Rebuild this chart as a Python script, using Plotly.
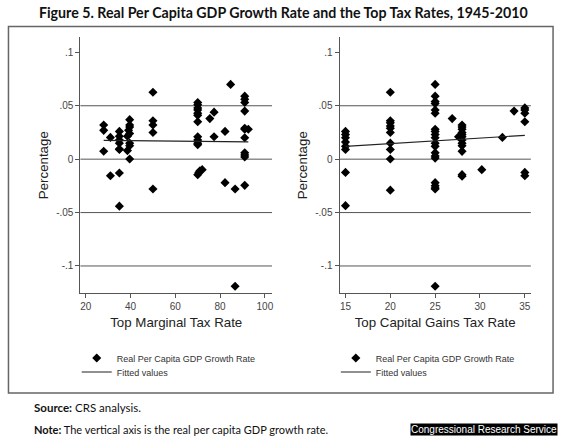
import plotly.graph_objects as go

W, H = 570, 436

# ---------------- data ----------------
marginal_rate = [28, 28, 28,
                 31, 31,
                 35, 35, 35, 35, 35, 35, 35, 35,
                 39.6, 39.6, 39.6, 39.1, 39.6, 38.6, 39.6, 39.6, 38.6, 39.6,
                 50, 50, 50, 50, 50,
                 70, 70, 70, 70, 70, 70, 70, 70, 70, 70, 70, 70, 70.5, 71, 72,
                 75.4, 77.3, 77.3,
                 82.2, 82.2,
                 84.7,
                 86.7, 86.7,
                 91, 91, 91, 91, 91, 91, 91, 91, 91, 91, 91,
                 92.6]
growth_left = [0.032, 0.027, 0.0074,
               0.0204, -0.0155,
               0.026, 0.0214, 0.018, 0.015, 0.0095, 0.009, -0.013, -0.044,
               0.037, 0.032, 0.030, 0.027, 0.024, 0.0214, 0.015, 0.0126, 0.008, 0.0002,
               0.0626, 0.036, 0.032, 0.025, -0.028,
               0.053, 0.051, 0.048, 0.046, 0.043, 0.041, 0.035, 0.021, 0.018, 0.015, 0.0136,
               -0.0145, -0.0124, -0.0108, -0.0098,
               0.038, 0.044, 0.021,
               0.026, -0.022,
               0.070,
               -0.028, -0.119,
               0.059, 0.056, 0.053, 0.045, 0.029, 0.028, 0.020, 0.006, 0.004, 0.002, -0.0245,
               0.028]

capgains_rate = [15, 15, 15, 15, 15, 15, 15, 15,
                 20, 20, 20, 20, 20, 20, 20, 20, 20, 20,
                 25, 25, 25, 25, 25, 25, 25, 25, 25, 25, 25, 25, 25, 25, 25, 25, 25, 25, 25, 25,
                 26.9, 27.6,
                 28, 28, 28, 28, 28, 28, 28, 28, 28, 28, 28, 28,
                 30.2, 32.5, 33.8,
                 35, 35, 35, 35, 35, 35]
growth_right = [0.026, 0.023, 0.020, 0.016, 0.012, 0.009, -0.0124, -0.0435,
                0.0626, 0.036, 0.034, 0.031, 0.029, 0.025, 0.015, 0.009, 0.0002, -0.029,
                0.070, 0.059, 0.054, 0.052, 0.046, 0.043, 0.028, 0.026, 0.023, 0.020,
                0.015, 0.012, 0.006, 0.003, 0.001, -0.022, -0.025, -0.027, -0.028, -0.119,
                0.038, 0.021,
                0.032, 0.030, 0.028, 0.025, 0.023, 0.021, 0.018, 0.015, 0.0126, 0.0073, -0.0145, -0.016,
                -0.0098, 0.0204, 0.045,
                0.048, 0.046, 0.043, 0.035, -0.0124, -0.0155]

fit_left_x = [28, 92.6]
fit_left_y = [0.0176, 0.0161]
fit_right_x = [15, 35]
fit_right_y = [0.012, 0.0223]

y_tickvals = [0.1, 0.05, 0, -0.05, -0.1]
y_ticktext = [".1", ".05", "0", "-.05", "-.1"]
grid_vals = [0.05, 0, -0.05, -0.1]
left_xticks = [20, 40, 60, 80, 100]
right_xticks = [15, 20, 25, 30, 35]

series_name = "Real Per Capita GDP Growth Rate"
fit_name = "Fitted values"

# ---------------- figure ----------------
def px(x):
    return x / W


def py(y):
    return 1 - y / H


fig = go.Figure()

fig.add_trace(go.Scatter(x=marginal_rate, y=growth_left, mode="markers", name=series_name,
                         marker=dict(symbol="diamond", size=7, color="black"),
                         xaxis="x", yaxis="y", legend="legend"))
fig.add_trace(go.Scatter(x=fit_left_x, y=fit_left_y, mode="lines", name=fit_name,
                         line=dict(color="#222", width=1.2),
                         xaxis="x", yaxis="y", legend="legend3"))
fig.add_trace(go.Scatter(x=capgains_rate, y=growth_right, mode="markers", name=series_name,
                         marker=dict(symbol="diamond", size=7, color="black"),
                         xaxis="x2", yaxis="y2", legend="legend2"))
fig.add_trace(go.Scatter(x=fit_right_x, y=fit_right_y, mode="lines", name=fit_name,
                         line=dict(color="#222", width=1.2),
                         xaxis="x2", yaxis="y2", legend="legend4"))

axis_font = dict(family="Arial, Liberation Sans, sans-serif", size=10, color="#444")
title_font = dict(family="Arial, Liberation Sans, sans-serif", size=13.3, color="#222")

yrange = [-0.1253, 0.114]
ydom = [py(293), py(37.4)]

common_y = dict(range=yrange, domain=ydom, tickvals=y_tickvals, ticktext=y_ticktext,
                showgrid=False, zeroline=False, showline=True, linecolor="#555", linewidth=1,
                ticks="outside", ticklen=4, tickcolor="#555", tickfont=axis_font,
                title=dict(text="Percentage", font=title_font, standoff=4))
common_x = dict(showgrid=False, zeroline=False, showline=True, linecolor="#555", linewidth=1,
                ticks="outside", ticklen=4, tickcolor="#555", tickfont=axis_font)

leg_font = dict(family="Arial, Liberation Sans, sans-serif", size=9, color="#333")


def legend_at(xpix, ypix):
    return dict(x=px(xpix), y=py(ypix), xanchor="left", yanchor="middle",
                bgcolor="rgba(0,0,0,0)", font=leg_font, itemwidth=30, borderwidth=0)


fig.update_layout(
    width=W, height=H,
    margin=dict(l=0, r=0, t=0, b=0),
    paper_bgcolor="white", plot_bgcolor="white",
    xaxis=dict(domain=[px(80.7), px(273)], range=[17.6, 103.2], tickvals=left_xticks,
               anchor="y", title=dict(text="Top Marginal Tax Rate", font=title_font, standoff=6),
               **common_x),
    yaxis=dict(anchor="x", **common_y),
    xaxis2=dict(domain=[px(340.7), px(532.7)], range=[14.333, 35.67], tickvals=right_xticks,
                anchor="y2", title=dict(text="Top Capital Gains Tax Rate", font=title_font, standoff=6),
                **common_x),
    yaxis2=dict(anchor="x2", **common_y),
    legend=legend_at(77, 358),
    legend3=legend_at(77, 372),
    legend2=legend_at(337, 358),
    legend4=legend_at(337, 372),
    showlegend=True,
)

# horizontal reference lines
for xr, yr in (("x", "y"), ("x2", "y2")):
    for g in grid_vals:
        fig.add_shape(type="line", xref=f"{xr} domain", yref=yr, x0=0, x1=1, y0=g, y1=g,
                      line=dict(color="#555", width=1), layer="below")

# outer frame
fig.add_shape(type="rect", xref="paper", yref="paper", x0=px(8.5), x1=px(555), y0=py(393), y1=py(26.5),
              line=dict(color="#666", width=1.5))

gill = "Lato, Open Sans, sans-serif"
fig.add_annotation(text="<b>Figure 5. Real Per Capita GDP Growth Rate and the Top Tax Rates, 1945-2010</b>",
                   xref="paper", yref="paper", x=px(284), y=py(12), xanchor="center", yanchor="middle",
                   showarrow=False, font=dict(family=gill, size=14.2, color="#111"))
fig.add_annotation(text="<b>Source:</b> CRS analysis.",
                   xref="paper", yref="paper", x=px(32), y=py(407), xanchor="left", yanchor="middle",
                   showarrow=False, font=dict(family=gill, size=11.5, color="#111"))
fig.add_annotation(text="<b>Note:</b> The vertical axis is the real per capita GDP growth rate.",
                   xref="paper", yref="paper", x=px(32), y=py(429), xanchor="left", yanchor="middle",
                   showarrow=False, font=dict(family=gill, size=11, color="#111"))
fig.add_annotation(text="Congressional Research Service",
                   xref="paper", yref="paper", x=px(560), y=py(436), xanchor="right", yanchor="bottom",
                   showarrow=False, bgcolor="black", borderpad=0,
                   font=dict(family="Arial, Liberation Sans, sans-serif", size=10, color="white"))

fig.write_html("out.html", config={"displayModeBar": False},
               post_script="document.body.style.margin='0';document.body.style.overflow='hidden';")
